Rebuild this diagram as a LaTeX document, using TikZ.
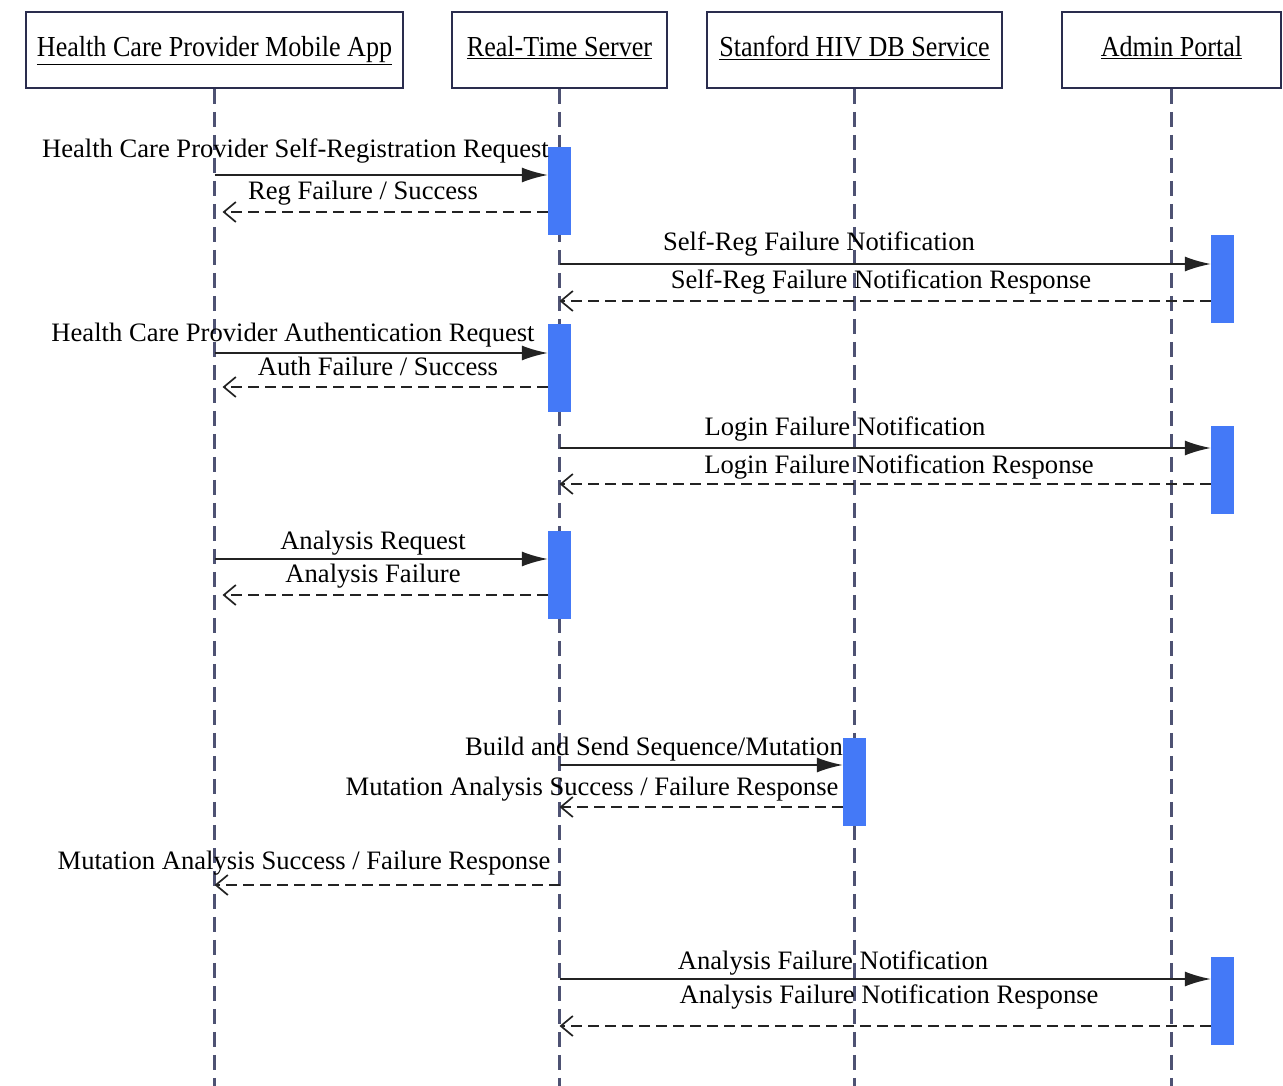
\documentclass[tikz,border=0pt]{standalone}
\usepackage{fontspec}
\setmainfont{Liberation Serif}
\newfontfamily\headfont{Liberation Serif}[FakeStretch=0.9]
\usetikzlibrary{arrows.meta,positioning}
\definecolor{barblue}{RGB}{68,121,247}
\definecolor{framenavy}{RGB}{42,45,78}
\definecolor{lifegray}{RGB}{78,82,115}
\definecolor{msggray}{RGB}{35,35,35}

\begin{document}
\begin{tikzpicture}[
    x=1pt,
    y=-1pt,
    every node/.style={font=\fontsize{26.6}{30}\selectfont},
    header/.style={draw=framenavy,line width=1.6pt,minimum height=76pt,inner sep=0pt,
                   font=\headfont\fontsize{29}{32}\selectfont,text height=22pt,text depth=8pt},
    lifeline/.style={lifegray,line width=2.4pt,dash pattern=on 15pt off 8pt},
    actbar/.style={fill=barblue,minimum width=23pt,minimum height=88pt,inner sep=0pt},
    call/.style={msggray,line width=1.7pt,-{Latex[length=26pt,width=15pt]}},
    reply/.style={msggray,line width=1.7pt,dash pattern=on 11pt off 6pt,
                  -{Straight Barb[length=12pt,width=20pt,line width=1.7pt]}},
    lbl/.style={inner sep=0pt,text height=22pt,text depth=4pt}
]
  \useasboundingbox (0,0) rectangle (1283,1086);

  % participants
  \node[header,minimum width=377pt] (app) at (214.5,50) {\underline{Health Care Provider Mobile App}};
  \node[header,minimum width=215pt] (server) at (559.5,50) {\underline{Real-Time Server}};
  \node[header,minimum width=295pt] (hivdb) at (854.5,50) {\underline{Stanford HIV DB Service}};
  \node[header,minimum width=219pt] (admin) at (1171.5,50) {\underline{Admin Portal}};

  \coordinate (bottom) at (0,1086);
  \foreach \p in {app,server,hivdb,admin}
    \draw[lifeline] (\p.south) -- (\p.south |- bottom);

  % activations
  \node[actbar] (sbar1) at (559.5,191) {};
  \node[actbar] (sbar2) at (559.5,368) {};
  \node[actbar] (sbar3) at (559.5,575) {};
  \node[actbar] (abar1) at (1222.5,279) {};
  \node[actbar] (abar2) at (1222.5,470) {};
  \node[actbar] (abar3) at (1222.5,1001) {};
  \node[actbar] (hbar) at (854.5,782) {};

  % message rows
  \coordinate (m1) at (0,175);
  \coordinate (m2) at (0,212);
  \coordinate (m3) at (0,264);
  \coordinate (m4) at (0,301);
  \coordinate (m5) at (0,353);
  \coordinate (m6) at (0,387);
  \coordinate (m7) at (0,448);
  \coordinate (m8) at (0,484);
  \coordinate (m9) at (0,559);
  \coordinate (m10) at (0,595);
  \coordinate (m11) at (0,765);
  \coordinate (m12) at (0,807);
  \coordinate (m13) at (0,885);
  \coordinate (m14) at (0,979);
  \coordinate (m15) at (0,1026);

  % self-registration
  \draw[call] (app.south |- m1) -- (sbar1.west |- m1);
  \draw[reply,shorten >=8pt] (sbar1.west |- m2) -- (app.south |- m2);
  \draw[call] (server.south |- m3) -- (abar1.west |- m3);
  \draw[reply] (abar1.west |- m4) -- (server.south |- m4);
  \node[lbl,anchor=east] (t1) at (549,149) {Health Care Provider Self-Registration Request};
  \node[lbl] (t2) at (363,191) {Reg Failure / Success};
  \node[lbl] (t3) at (819,242) {Self-Reg Failure Notification};
  \node[lbl] (t4) at (881,280) {Self-Reg Failure Notification Response};

  % authentication
  \draw[call] (app.south |- m5) -- (sbar2.west |- m5);
  \draw[reply,shorten >=8pt] (sbar2.west |- m6) -- (app.south |- m6);
  \draw[call] (server.south |- m7) -- (abar2.west |- m7);
  \draw[reply] (abar2.west |- m8) -- (server.south |- m8);
  \node[lbl] (t5) at (293,332) {Health Care Provider Authentication Request};
  \node[lbl] (t6) at (378,366) {Auth Failure / Success};
  \node[lbl] (t7) at (845,426) {Login Failure Notification};
  \node[lbl] (t8) at (899,464) {Login Failure Notification Response};

  % analysis
  \draw[call] (app.south |- m9) -- (sbar3.west |- m9);
  \draw[reply,shorten >=8pt] (sbar3.west |- m10) -- (app.south |- m10);
  \node[lbl] (t9) at (373,540) {Analysis Request};
  \node[lbl] (t10) at (373,573) {Analysis Failure};

  \draw[call] (server.south |- m11) -- (hbar.west |- m11);
  \draw[reply] (hbar.west |- m12) -- (server.south |- m12);
  \draw[reply] (server.south |- m13) -- (app.south |- m13);
  \node[lbl] (t11) at (654,746) {Build and Send Sequence/Mutation};
  \node[lbl] (t12) at (592,786) {Mutation Analysis Success / Failure Response};
  \node[lbl] (t13) at (304,860) {Mutation Analysis Success / Failure Response};

  \draw[call] (server.south |- m14) -- (abar3.west |- m14);
  \draw[reply] (abar3.west |- m15) -- (server.south |- m15);
  \node[lbl] (t14) at (833,960) {Analysis Failure Notification};
  \node[lbl] (t15) at (889,994) {Analysis Failure Notification Response};
\end{tikzpicture}
\end{document}
